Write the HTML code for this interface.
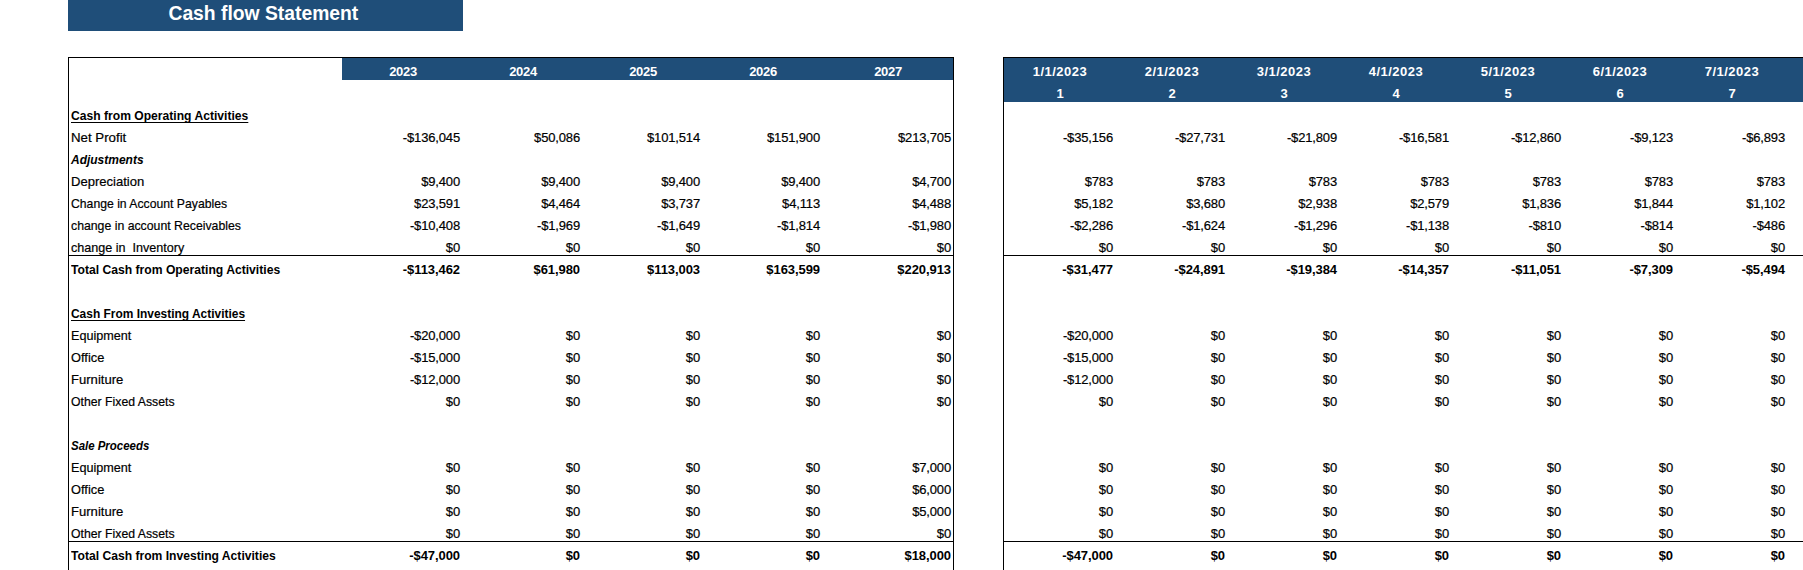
<!DOCTYPE html>
<html lang="en"><head><meta charset="utf-8"><title>Cash flow Statement</title>
<style>
html,body{margin:0;padding:0;background:#fff;}
body{width:1803px;height:570px;overflow:hidden;position:relative;font-family:"Liberation Sans",sans-serif;font-size:13px;color:#000;}
.a{position:absolute;}
.blue{background:#1f4e79;}
.blk{background:#000;}
.t{position:absolute;height:22px;line-height:22px;white-space:pre;-webkit-text-stroke:0.2px #000;}
.t.b{-webkit-text-stroke:0;}
.t.c{-webkit-text-stroke:0;}
.l{left:71px;transform-origin:0 50%;}
.n{text-align:right;transform-origin:100% 50%;letter-spacing:-0.15px;}
.n.b{letter-spacing:-0.07px;}
.c{text-align:center;width:120px;transform-origin:50% 50%;color:#fff;font-weight:bold;}
.b{font-weight:bold;}
.i{font-style:italic;}
.u{text-decoration:underline;text-decoration-thickness:1px;text-underline-offset:2px;text-decoration-skip-ink:none;}
#title{position:absolute;left:68px;top:0;width:395px;height:31px;color:#fff;font-weight:bold;font-size:19.6px;line-height:31px;text-align:center;}
</style></head><body>

<div id="title" class="blue"><span id="tt" style="display:inline-block;position:relative;left:-2.6px;top:-2.0px;transform:scaleX(0.985)">Cash flow Statement</span></div>
<div class="a blue" style="left:342px;top:58px;width:611px;height:22px"></div>
<div class="a blue" style="left:1004px;top:58px;width:799px;height:44px"></div>
<div class="a blk" style="left:68px;top:57px;width:886px;height:1px"></div>
<div class="a blk" style="left:68px;top:57px;width:1px;height:513px"></div>
<div class="a blk" style="left:953px;top:57px;width:1px;height:513px"></div>
<div class="a blk" style="left:1003px;top:57px;width:800px;height:1px"></div>
<div class="a blk" style="left:1003px;top:57px;width:1px;height:513px"></div>
<div class="a blk" style="left:68px;top:255px;width:886px;height:1px"></div>
<div class="a blk" style="left:1003px;top:255px;width:800px;height:1px"></div>
<div class="a blk" style="left:68px;top:541px;width:886px;height:1px"></div>
<div class="a blk" style="left:1003px;top:541px;width:800px;height:1px"></div>
<div class="t c" style="left:343px;top:61px;letter-spacing:-0.33px">2023</div>
<div class="t c" style="left:463px;top:61px;letter-spacing:-0.33px">2024</div>
<div class="t c" style="left:583px;top:61px;letter-spacing:-0.33px">2025</div>
<div class="t c" style="left:703px;top:61px;letter-spacing:-0.33px">2026</div>
<div class="t c" style="left:828px;top:61px;letter-spacing:-0.33px">2027</div>
<div class="t c" style="left:1000px;top:61px;letter-spacing:0.5px">1/1/2023</div>
<div class="t c" style="left:1112px;top:61px;letter-spacing:0.5px">2/1/2023</div>
<div class="t c" style="left:1224px;top:61px;letter-spacing:0.5px">3/1/2023</div>
<div class="t c" style="left:1336px;top:61px;letter-spacing:0.5px">4/1/2023</div>
<div class="t c" style="left:1448px;top:61px;letter-spacing:0.5px">5/1/2023</div>
<div class="t c" style="left:1560px;top:61px;letter-spacing:0.5px">6/1/2023</div>
<div class="t c" style="left:1672px;top:61px;letter-spacing:0.5px">7/1/2023</div>
<div class="t c" style="left:1000px;top:83px">1</div>
<div class="t c" style="left:1112px;top:83px">2</div>
<div class="t c" style="left:1224px;top:83px">3</div>
<div class="t c" style="left:1336px;top:83px">4</div>
<div class="t c" style="left:1448px;top:83px">5</div>
<div class="t c" style="left:1560px;top:83px">6</div>
<div class="t c" style="left:1672px;top:83px">7</div>
<div class="t l b u" style="top:105px;transform:scaleX(0.9321)">Cash from Operating Activities</div>
<div class="t l" style="top:127px;transform:scaleX(1.0208)">Net Profit</div>
<div class="t l b i" style="top:149px;transform:scaleX(0.9218)">Adjustments</div>
<div class="t l" style="top:171px;transform:scaleX(1.0042)">Depreciation</div>
<div class="t l" style="top:193px;transform:scaleX(0.9388)">Change in Account Payables</div>
<div class="t l" style="top:215px;transform:scaleX(0.9444)">change in account Receivables</div>
<div class="t l" style="top:237px;transform:scaleX(0.9675)">change in  Inventory</div>
<div class="t l b" style="top:259px;transform:scaleX(0.9341)">Total Cash from Operating Activities</div>
<div class="t l b u" style="top:303px;transform:scaleX(0.9184)">Cash From Investing Activities</div>
<div class="t l" style="top:325px;transform:scaleX(0.9705)">Equipment</div>
<div class="t l" style="top:347px;transform:scaleX(0.9875)">Office</div>
<div class="t l" style="top:369px;transform:scaleX(1.006)">Furniture</div>
<div class="t l" style="top:391px;transform:scaleX(0.9426)">Other Fixed Assets</div>
<div class="t l b i" style="top:435px;transform:scaleX(0.8807)">Sale Proceeds</div>
<div class="t l" style="top:457px;transform:scaleX(0.9705)">Equipment</div>
<div class="t l" style="top:479px;transform:scaleX(0.9875)">Office</div>
<div class="t l" style="top:501px;transform:scaleX(1.006)">Furniture</div>
<div class="t l" style="top:523px;transform:scaleX(0.9426)">Other Fixed Assets</div>
<div class="t l b" style="top:545px;transform:scaleX(0.9324)">Total Cash from Investing Activities</div>
<div class="t n" style="right:1343px;top:127px">-$136,045</div>
<div class="t n" style="right:1223px;top:127px">$50,086</div>
<div class="t n" style="right:1103px;top:127px">$101,514</div>
<div class="t n" style="right:983px;top:127px">$151,900</div>
<div class="t n" style="right:852px;top:127px">$213,705</div>
<div class="t n" style="right:690px;top:127px">-$35,156</div>
<div class="t n" style="right:578px;top:127px">-$27,731</div>
<div class="t n" style="right:466px;top:127px">-$21,809</div>
<div class="t n" style="right:354px;top:127px">-$16,581</div>
<div class="t n" style="right:242px;top:127px">-$12,860</div>
<div class="t n" style="right:130px;top:127px">-$9,123</div>
<div class="t n" style="right:18px;top:127px">-$6,893</div>
<div class="t n" style="right:1343px;top:171px">$9,400</div>
<div class="t n" style="right:1223px;top:171px">$9,400</div>
<div class="t n" style="right:1103px;top:171px">$9,400</div>
<div class="t n" style="right:983px;top:171px">$9,400</div>
<div class="t n" style="right:852px;top:171px">$4,700</div>
<div class="t n" style="right:690px;top:171px">$783</div>
<div class="t n" style="right:578px;top:171px">$783</div>
<div class="t n" style="right:466px;top:171px">$783</div>
<div class="t n" style="right:354px;top:171px">$783</div>
<div class="t n" style="right:242px;top:171px">$783</div>
<div class="t n" style="right:130px;top:171px">$783</div>
<div class="t n" style="right:18px;top:171px">$783</div>
<div class="t n" style="right:1343px;top:193px">$23,591</div>
<div class="t n" style="right:1223px;top:193px">$4,464</div>
<div class="t n" style="right:1103px;top:193px">$3,737</div>
<div class="t n" style="right:983px;top:193px">$4,113</div>
<div class="t n" style="right:852px;top:193px">$4,488</div>
<div class="t n" style="right:690px;top:193px">$5,182</div>
<div class="t n" style="right:578px;top:193px">$3,680</div>
<div class="t n" style="right:466px;top:193px">$2,938</div>
<div class="t n" style="right:354px;top:193px">$2,579</div>
<div class="t n" style="right:242px;top:193px">$1,836</div>
<div class="t n" style="right:130px;top:193px">$1,844</div>
<div class="t n" style="right:18px;top:193px">$1,102</div>
<div class="t n" style="right:1343px;top:215px">-$10,408</div>
<div class="t n" style="right:1223px;top:215px">-$1,969</div>
<div class="t n" style="right:1103px;top:215px">-$1,649</div>
<div class="t n" style="right:983px;top:215px">-$1,814</div>
<div class="t n" style="right:852px;top:215px">-$1,980</div>
<div class="t n" style="right:690px;top:215px">-$2,286</div>
<div class="t n" style="right:578px;top:215px">-$1,624</div>
<div class="t n" style="right:466px;top:215px">-$1,296</div>
<div class="t n" style="right:354px;top:215px">-$1,138</div>
<div class="t n" style="right:242px;top:215px">-$810</div>
<div class="t n" style="right:130px;top:215px">-$814</div>
<div class="t n" style="right:18px;top:215px">-$486</div>
<div class="t n" style="right:1343px;top:237px">$0</div>
<div class="t n" style="right:1223px;top:237px">$0</div>
<div class="t n" style="right:1103px;top:237px">$0</div>
<div class="t n" style="right:983px;top:237px">$0</div>
<div class="t n" style="right:852px;top:237px">$0</div>
<div class="t n" style="right:690px;top:237px">$0</div>
<div class="t n" style="right:578px;top:237px">$0</div>
<div class="t n" style="right:466px;top:237px">$0</div>
<div class="t n" style="right:354px;top:237px">$0</div>
<div class="t n" style="right:242px;top:237px">$0</div>
<div class="t n" style="right:130px;top:237px">$0</div>
<div class="t n" style="right:18px;top:237px">$0</div>
<div class="t n b" style="right:1343px;top:259px">-$113,462</div>
<div class="t n b" style="right:1223px;top:259px">$61,980</div>
<div class="t n b" style="right:1103px;top:259px">$113,003</div>
<div class="t n b" style="right:983px;top:259px">$163,599</div>
<div class="t n b" style="right:852px;top:259px">$220,913</div>
<div class="t n b" style="right:690px;top:259px">-$31,477</div>
<div class="t n b" style="right:578px;top:259px">-$24,891</div>
<div class="t n b" style="right:466px;top:259px">-$19,384</div>
<div class="t n b" style="right:354px;top:259px">-$14,357</div>
<div class="t n b" style="right:242px;top:259px">-$11,051</div>
<div class="t n b" style="right:130px;top:259px">-$7,309</div>
<div class="t n b" style="right:18px;top:259px">-$5,494</div>
<div class="t n" style="right:1343px;top:325px">-$20,000</div>
<div class="t n" style="right:1223px;top:325px">$0</div>
<div class="t n" style="right:1103px;top:325px">$0</div>
<div class="t n" style="right:983px;top:325px">$0</div>
<div class="t n" style="right:852px;top:325px">$0</div>
<div class="t n" style="right:690px;top:325px">-$20,000</div>
<div class="t n" style="right:578px;top:325px">$0</div>
<div class="t n" style="right:466px;top:325px">$0</div>
<div class="t n" style="right:354px;top:325px">$0</div>
<div class="t n" style="right:242px;top:325px">$0</div>
<div class="t n" style="right:130px;top:325px">$0</div>
<div class="t n" style="right:18px;top:325px">$0</div>
<div class="t n" style="right:1343px;top:347px">-$15,000</div>
<div class="t n" style="right:1223px;top:347px">$0</div>
<div class="t n" style="right:1103px;top:347px">$0</div>
<div class="t n" style="right:983px;top:347px">$0</div>
<div class="t n" style="right:852px;top:347px">$0</div>
<div class="t n" style="right:690px;top:347px">-$15,000</div>
<div class="t n" style="right:578px;top:347px">$0</div>
<div class="t n" style="right:466px;top:347px">$0</div>
<div class="t n" style="right:354px;top:347px">$0</div>
<div class="t n" style="right:242px;top:347px">$0</div>
<div class="t n" style="right:130px;top:347px">$0</div>
<div class="t n" style="right:18px;top:347px">$0</div>
<div class="t n" style="right:1343px;top:369px">-$12,000</div>
<div class="t n" style="right:1223px;top:369px">$0</div>
<div class="t n" style="right:1103px;top:369px">$0</div>
<div class="t n" style="right:983px;top:369px">$0</div>
<div class="t n" style="right:852px;top:369px">$0</div>
<div class="t n" style="right:690px;top:369px">-$12,000</div>
<div class="t n" style="right:578px;top:369px">$0</div>
<div class="t n" style="right:466px;top:369px">$0</div>
<div class="t n" style="right:354px;top:369px">$0</div>
<div class="t n" style="right:242px;top:369px">$0</div>
<div class="t n" style="right:130px;top:369px">$0</div>
<div class="t n" style="right:18px;top:369px">$0</div>
<div class="t n" style="right:1343px;top:391px">$0</div>
<div class="t n" style="right:1223px;top:391px">$0</div>
<div class="t n" style="right:1103px;top:391px">$0</div>
<div class="t n" style="right:983px;top:391px">$0</div>
<div class="t n" style="right:852px;top:391px">$0</div>
<div class="t n" style="right:690px;top:391px">$0</div>
<div class="t n" style="right:578px;top:391px">$0</div>
<div class="t n" style="right:466px;top:391px">$0</div>
<div class="t n" style="right:354px;top:391px">$0</div>
<div class="t n" style="right:242px;top:391px">$0</div>
<div class="t n" style="right:130px;top:391px">$0</div>
<div class="t n" style="right:18px;top:391px">$0</div>
<div class="t n" style="right:1343px;top:457px">$0</div>
<div class="t n" style="right:1223px;top:457px">$0</div>
<div class="t n" style="right:1103px;top:457px">$0</div>
<div class="t n" style="right:983px;top:457px">$0</div>
<div class="t n" style="right:852px;top:457px">$7,000</div>
<div class="t n" style="right:690px;top:457px">$0</div>
<div class="t n" style="right:578px;top:457px">$0</div>
<div class="t n" style="right:466px;top:457px">$0</div>
<div class="t n" style="right:354px;top:457px">$0</div>
<div class="t n" style="right:242px;top:457px">$0</div>
<div class="t n" style="right:130px;top:457px">$0</div>
<div class="t n" style="right:18px;top:457px">$0</div>
<div class="t n" style="right:1343px;top:479px">$0</div>
<div class="t n" style="right:1223px;top:479px">$0</div>
<div class="t n" style="right:1103px;top:479px">$0</div>
<div class="t n" style="right:983px;top:479px">$0</div>
<div class="t n" style="right:852px;top:479px">$6,000</div>
<div class="t n" style="right:690px;top:479px">$0</div>
<div class="t n" style="right:578px;top:479px">$0</div>
<div class="t n" style="right:466px;top:479px">$0</div>
<div class="t n" style="right:354px;top:479px">$0</div>
<div class="t n" style="right:242px;top:479px">$0</div>
<div class="t n" style="right:130px;top:479px">$0</div>
<div class="t n" style="right:18px;top:479px">$0</div>
<div class="t n" style="right:1343px;top:501px">$0</div>
<div class="t n" style="right:1223px;top:501px">$0</div>
<div class="t n" style="right:1103px;top:501px">$0</div>
<div class="t n" style="right:983px;top:501px">$0</div>
<div class="t n" style="right:852px;top:501px">$5,000</div>
<div class="t n" style="right:690px;top:501px">$0</div>
<div class="t n" style="right:578px;top:501px">$0</div>
<div class="t n" style="right:466px;top:501px">$0</div>
<div class="t n" style="right:354px;top:501px">$0</div>
<div class="t n" style="right:242px;top:501px">$0</div>
<div class="t n" style="right:130px;top:501px">$0</div>
<div class="t n" style="right:18px;top:501px">$0</div>
<div class="t n" style="right:1343px;top:523px">$0</div>
<div class="t n" style="right:1223px;top:523px">$0</div>
<div class="t n" style="right:1103px;top:523px">$0</div>
<div class="t n" style="right:983px;top:523px">$0</div>
<div class="t n" style="right:852px;top:523px">$0</div>
<div class="t n" style="right:690px;top:523px">$0</div>
<div class="t n" style="right:578px;top:523px">$0</div>
<div class="t n" style="right:466px;top:523px">$0</div>
<div class="t n" style="right:354px;top:523px">$0</div>
<div class="t n" style="right:242px;top:523px">$0</div>
<div class="t n" style="right:130px;top:523px">$0</div>
<div class="t n" style="right:18px;top:523px">$0</div>
<div class="t n b" style="right:1343px;top:545px">-$47,000</div>
<div class="t n b" style="right:1223px;top:545px">$0</div>
<div class="t n b" style="right:1103px;top:545px">$0</div>
<div class="t n b" style="right:983px;top:545px">$0</div>
<div class="t n b" style="right:852px;top:545px">$18,000</div>
<div class="t n b" style="right:690px;top:545px">-$47,000</div>
<div class="t n b" style="right:578px;top:545px">$0</div>
<div class="t n b" style="right:466px;top:545px">$0</div>
<div class="t n b" style="right:354px;top:545px">$0</div>
<div class="t n b" style="right:242px;top:545px">$0</div>
<div class="t n b" style="right:130px;top:545px">$0</div>
<div class="t n b" style="right:18px;top:545px">$0</div>
</body></html>
